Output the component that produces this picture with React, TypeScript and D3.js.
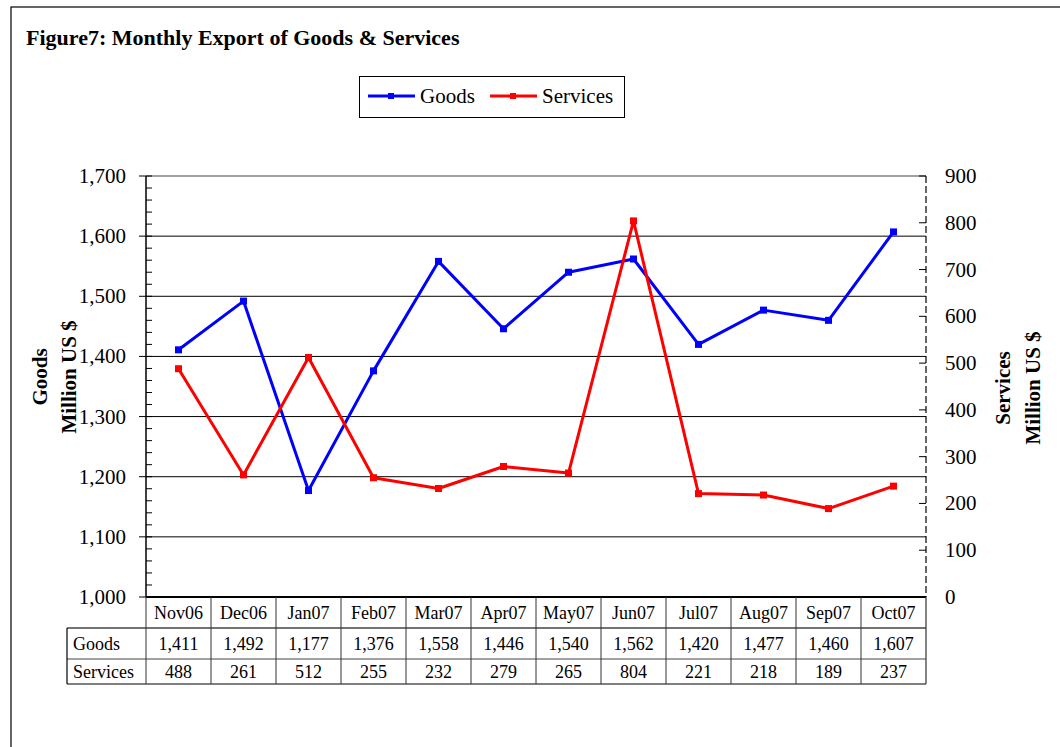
import React from "react";
import * as d3 from "d3";

const categories = ["Nov06", "Dec06", "Jan07", "Feb07", "Mar07", "Apr07", "May07", "Jun07", "Jul07", "Aug07", "Sep07", "Oct07"];
const goods = [1411, 1492, 1177, 1376, 1558, 1446, 1540, 1562, 1420, 1477, 1460, 1607];
const services = [488, 261, 512, 255, 232, 279, 265, 804, 221, 218, 189, 237];
const leftTicks = [1000, 1100, 1200, 1300, 1400, 1500, 1600, 1700];
const rightTicks = [0, 100, 200, 300, 400, 500, 600, 700, 800, 900];

const W = 1060, H = 747;
const L = 146, R = 926, T = 176, B = 597;
const serif = "'Liberation Serif', 'Times New Roman', serif";

export default function App() {
  const x = d3.scaleBand<string>().domain(categories).range([L, R]);
  const yL = d3.scaleLinear().domain([1000, 1700]).range([B, T]);
  const yR = d3.scaleLinear().domain([0, 900]).range([B, T]);
  const cx = (c: string) => (x(c) as number) + x.bandwidth() / 2;
  const fmt = d3.format(",");
  const lineG = d3.line<number>().x((_, i) => cx(categories[i])).y((v) => yL(v));
  const lineS = d3.line<number>().x((_, i) => cx(categories[i])).y((v) => yR(v));
  const minor = d3.range(1000, 1701, 20);
  const rowH = [B, 628, 659, 684];
  const labelX = 67;

  return (
    <svg width={W} height={H} style={{ position: "absolute", left: 0, top: 0, background: "#fff" }} fontFamily={serif}>
      <rect x={11} y={7} width={1100} height={800} fill="#fff" stroke="#000" strokeWidth={1.2} />
      <text x={26} y={45} fontSize={22} fontWeight="bold">Figure7: Monthly Export of Goods &amp; Services</text>

      {/* legend */}
      <rect x={359.5} y={76.5} width={265} height={41} fill="#fff" stroke="#000" strokeWidth={1} />
      <line x1={368} x2={415} y1={96} y2={96} stroke="#0000ff" strokeWidth={3} />
      <rect x={388} y={93} width={6} height={6} fill="#0000ff" />
      <text x={420} y={103} fontSize={21}>Goods</text>
      <line x1={490} x2={537} y1={96} y2={96} stroke="#ff0000" strokeWidth={3} />
      <rect x={510} y={93} width={6} height={6} fill="#ff0000" />
      <text x={542} y={103} fontSize={21}>Services</text>

      {/* gridlines */}
      {leftTicks.filter((t) => t > 1000 && t < 1700).map((t) => (
        <line key={t} x1={L} x2={R} y1={yL(t)} y2={yL(t)} stroke="#000" strokeWidth={1} />
      ))}
      <line x1={L} x2={R} y1={T} y2={T} stroke="#808080" strokeWidth={1.5} />

      {/* left axis */}
      <line x1={L} x2={L} y1={T} y2={B} stroke="#000" strokeWidth={1.5} />
      {minor.map((t) => (
        <line key={t} x1={L} x2={L + 6} y1={yL(t)} y2={yL(t)} stroke="#000" strokeWidth={1} />
      ))}
      {leftTicks.map((t) => (
        <g key={t}>
          <line x1={L - 7} x2={L} y1={yL(t)} y2={yL(t)} stroke="#000" strokeWidth={1} />
          <text x={126} y={yL(t) + 7} fontSize={21} textAnchor="end">{fmt(t)}</text>
        </g>
      ))}

      {/* right axis */}
      <line x1={R} x2={R} y1={T} y2={B} stroke="#000" strokeWidth={1.2} strokeDasharray="7,3" />
      {rightTicks.map((t) => (
        <g key={t}>
          <line x1={R - 7} x2={R} y1={yR(t)} y2={yR(t)} stroke="#000" strokeWidth={1} />
          <text x={945} y={yR(t) + 7} fontSize={21}>{t}</text>
        </g>
      ))}

      {/* axis titles */}
      <g transform={`translate(47,377) rotate(-90)`}>
        <text x={0} y={0} fontSize={21} fontWeight="bold" textAnchor="middle">Goods</text>
        <text x={0} y={29} fontSize={21} fontWeight="bold" textAnchor="middle">Million US $</text>
      </g>
      <g transform={`translate(1010,388) rotate(-90)`}>
        <text x={0} y={0} fontSize={21} fontWeight="bold" textAnchor="middle">Services</text>
        <text x={0} y={30} fontSize={21} fontWeight="bold" textAnchor="middle">Million US $</text>
      </g>

      {/* series */}
      <path d={lineG(goods) || ""} fill="none" stroke="#0000ff" strokeWidth={3} strokeLinejoin="round" />
      <path d={lineS(services) || ""} fill="none" stroke="#ff0000" strokeWidth={3} strokeLinejoin="round" />
      {goods.map((v, i) => (
        <rect key={"g" + i} x={cx(categories[i]) - 3.5} y={yL(v) - 3.5} width={7} height={7} fill="#0000ff" />
      ))}
      {services.map((v, i) => (
        <rect key={"s" + i} x={cx(categories[i]) - 3.5} y={yR(v) - 3.5} width={7} height={7} fill="#ff0000" />
      ))}

      {/* data table */}
      <line x1={L} x2={R} y1={B} y2={B} stroke="#000" strokeWidth={2} />
      <line x1={labelX} x2={R} y1={rowH[1]} y2={rowH[1]} stroke="#444" strokeWidth={1.5} />
      <line x1={labelX} x2={R} y1={rowH[2]} y2={rowH[2]} stroke="#444" strokeWidth={1} />
      <line x1={labelX} x2={R} y1={rowH[3]} y2={rowH[3]} stroke="#000" strokeWidth={1.2} />
      <line x1={labelX} x2={labelX} y1={rowH[1]} y2={rowH[3]} stroke="#000" strokeWidth={1.2} />
      {categories.map((c) => (
        <line key={c} x1={x(c) as number} x2={x(c) as number} y1={B} y2={rowH[3]} stroke="#333" strokeWidth={1} />
      ))}
      <line x1={R} x2={R} y1={B} y2={rowH[3]} stroke="#333" strokeWidth={1.2} />
      {categories.map((c, i) => (
        <g key={"t" + c} fontSize={18} textAnchor="middle">
          <text x={cx(c)} y={619}>{c}</text>
          <text x={cx(c)} y={650}>{fmt(goods[i])}</text>
          <text x={cx(c)} y={678}>{services[i]}</text>
        </g>
      ))}
      <text x={73} y={650} fontSize={18}>Goods</text>
      <text x={73} y={678} fontSize={18}>Services</text>
    </svg>
  );
}
